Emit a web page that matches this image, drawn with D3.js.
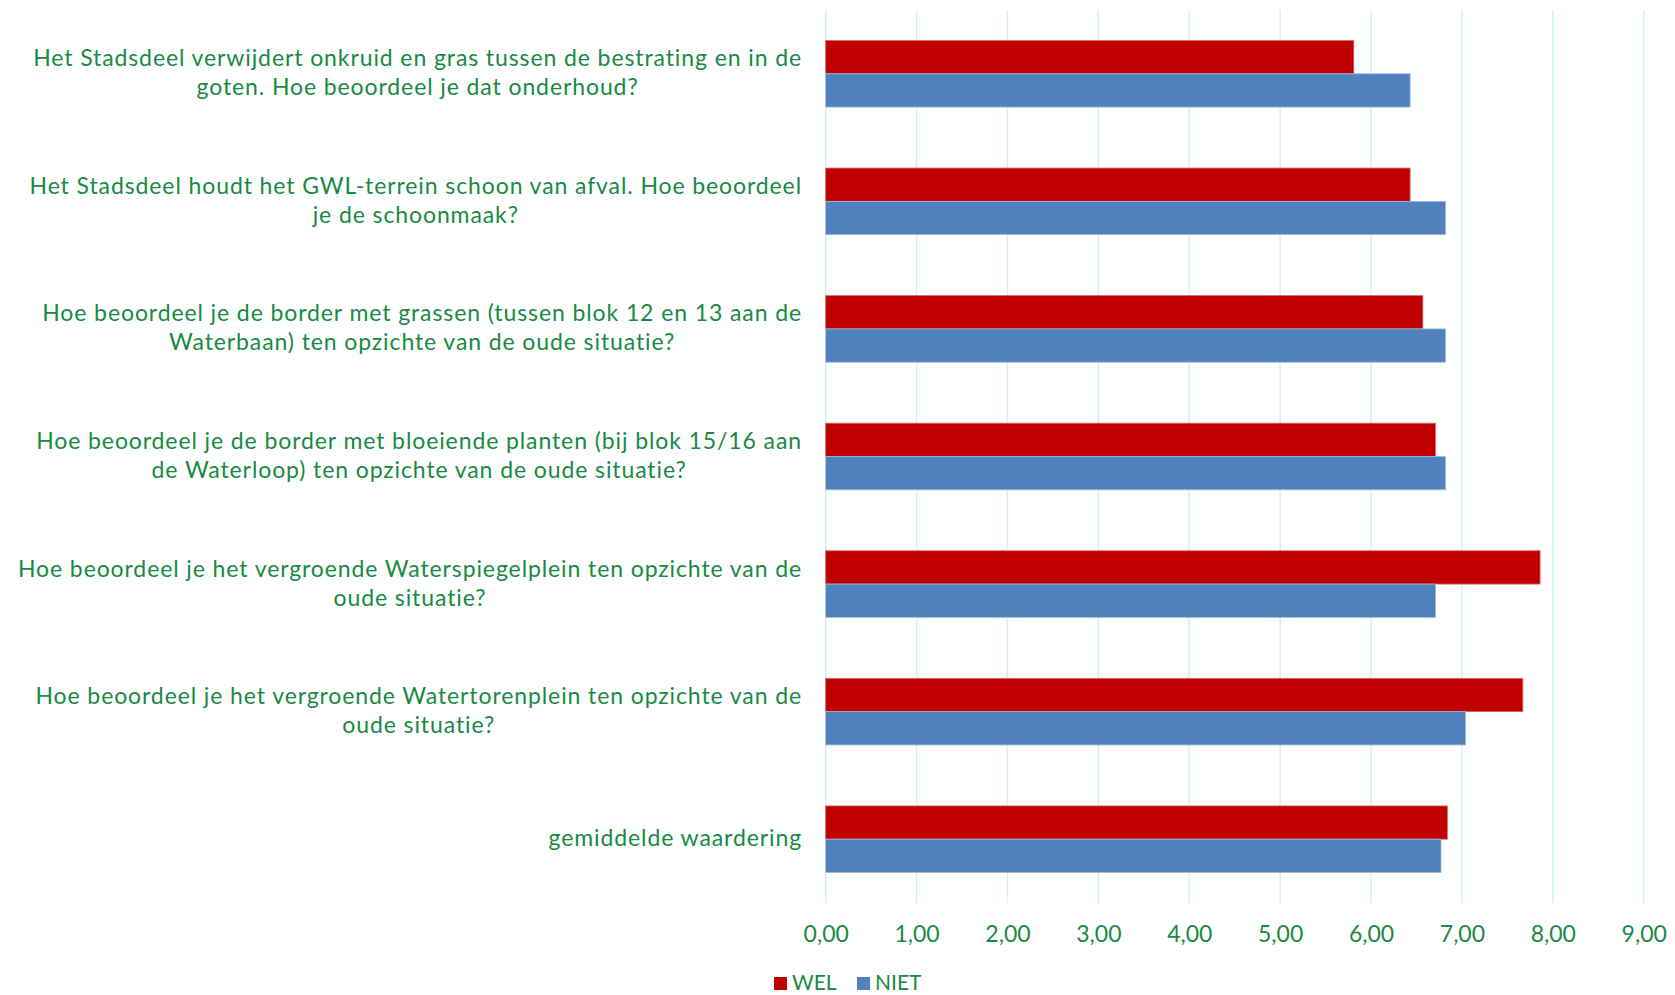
<!DOCTYPE html>
<html>
<head>
<meta charset="utf-8">
<script src="https://cdn.jsdelivr.net/npm/d3@7"></script>
<style>
  html, body { margin: 0; padding: 0; background: #fff; }
  svg { display: block; }
  text { font-family: Lato, "Noto Sans", sans-serif; }
</style>
</head>
<body>
<svg id="chart" width="1675" height="995"></svg>
<script>
// ---- data ----
const categories = [
  "Het Stadsdeel verwijdert onkruid en gras tussen de bestrating en in de\ngoten. Hoe beoordeel je dat onderhoud?",
  "Het Stadsdeel houdt het GWL-terrein schoon van afval. Hoe beoordeel\nje de schoonmaak?",
  "Hoe beoordeel je de border met grassen (tussen blok 12 en 13 aan de\nWaterbaan) ten opzichte van de oude situatie?",
  "Hoe beoordeel je de border met bloeiende planten (bij blok 15/16 aan\nde Waterloop) ten opzichte van de oude situatie?",
  "Hoe beoordeel je het vergroende Waterspiegelplein ten opzichte van de\noude situatie?",
  "Hoe beoordeel je het vergroende Watertorenplein ten opzichte van de\noude situatie?",
  "gemiddelde waardering"
];
const seriesNames = ["WEL", "NIET"];
const welValues  = [5.81, 6.43, 6.57, 6.71, 7.86, 7.67, 6.84];
const nietValues = [6.43, 6.82, 6.82, 6.82, 6.71, 7.04, 6.77];
const tickValues = [0, 1, 2, 3, 4, 5, 6, 7, 8, 9];

// ---- styles ----
const colors = { WEL: "#C00000", NIET: "#4F81BD" };
const strokeColors = { WEL: "#e06666", NIET: "#9dbbe0" };
const textColor = "#188a44";
const gridColor = "#d2f5e1";

const svg = d3.select("#chart");
const plot = { left: 825.7, right: 1643.7, top: 10, bottom: 903 };

const x = d3.scaleLinear().domain([0, 9]).range([plot.left, plot.right]);
const y = d3.scaleBand().domain(d3.range(categories.length))
  .range([plot.top, plot.bottom]).paddingInner(0.478).paddingOuter(0.239);
const ySub = d3.scaleBand().domain(seriesNames).range([0, y.bandwidth()]);

const nlLocale = d3.formatLocale({ decimal: ",", thousands: ".", grouping: [3], currency: ["€", ""] });
const fmt = nlLocale.format(".2f");

// gridlines
svg.append("g").selectAll("line").data(tickValues).join("line")
  .attr("x1", d => x(d)).attr("x2", d => x(d))
  .attr("y1", plot.top).attr("y2", plot.bottom)
  .attr("stroke", gridColor).attr("stroke-width", 1.5);

// x axis
const xAxis = d3.axisBottom(x).tickValues(tickValues).tickFormat(fmt).tickSize(0).tickPadding(0);
const gx = svg.append("g").attr("transform", `translate(0,${942})`).call(xAxis);
gx.select(".domain").remove();
gx.selectAll("text").attr("fill", textColor).attr("font-size", 23).attr("dy", 0)
  .attr("y", 0).style("dominant-baseline", "alphabetic");

// bars
const rows = categories.map((c, i) => ({ i, WEL: welValues[i], NIET: nietValues[i] }));
const groups = svg.append("g").selectAll("g").data(rows).join("g")
  .attr("transform", d => `translate(0,${y(d.i)})`);
groups.selectAll("rect").data(d => seriesNames.map(s => ({ s, v: d[s] }))).join("rect")
  .attr("x", x(0))
  .attr("y", d => ySub(d.s))
  .attr("width", d => x(d.v) - x(0))
  .attr("height", ySub.bandwidth())
  .attr("fill", d => colors[d.s])
  .attr("stroke", d => strokeColors[d.s])
  .attr("stroke-width", 0.8);

// category labels
const labelRight = 802;
const lineH = 29;
const lg = svg.append("g").attr("fill", textColor).attr("font-size", 23)
  .attr("letter-spacing", 0.9);
categories.forEach((c, i) => {
  const lines = c.split("\n");
  const cy = y(i) + y.bandwidth() / 2;
  const t = lg.append("text").attr("text-anchor", "middle");
  lines.forEach((ln, k) => {
    t.append("tspan").text(ln)
      .attr("y", cy + 7 + (k - (lines.length - 1) / 2) * lineH);
  });
  let maxW = 0;
  t.selectAll("tspan").each(function () { maxW = Math.max(maxW, this.getComputedTextLength()); });
  t.selectAll("tspan").attr("x", labelRight - maxW / 2);
});

// legend
const legend = svg.append("g").attr("transform", "translate(774,977)");
const legX = [0, 83];
seriesNames.forEach((s, k) => {
  const g = legend.append("g").attr("transform", `translate(${legX[k]},0)`);
  g.append("rect").attr("width", 13).attr("height", 13).attr("fill", colors[s]);
  g.append("text").attr("x", 18).attr("y", 13).attr("fill", textColor).attr("font-size", 21).text(s);
});
</script>
</body>
</html>
